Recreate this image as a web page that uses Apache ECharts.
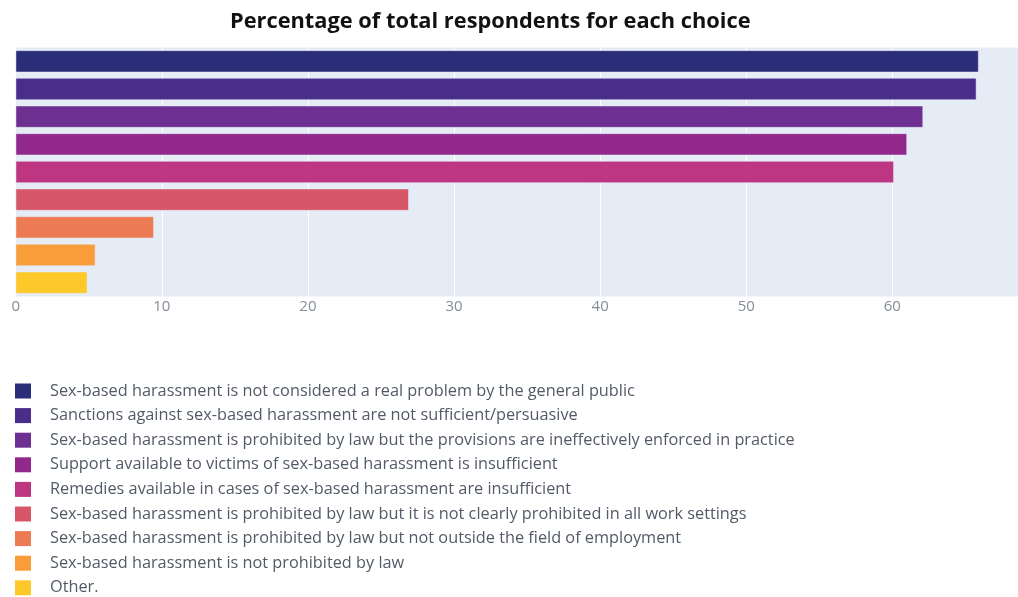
<!DOCTYPE html>
<html>
<head>
<meta charset="utf-8">
<script src="https://cdn.jsdelivr.net/npm/echarts@6/dist/echarts.min.js"></script>
<style>
  html, body { margin: 0; padding: 0; background: #ffffff; }
  #chart { width: 1018px; height: 597px; }
</style>
</head>
<body>
<div id="chart"></div>
<script>
const titleText = "Percentage of total respondents for each choice";

const categories = [
  "Sex-based harassment is not considered a real problem by the general public",
  "Sanctions against sex-based harassment are not sufficient/persuasive",
  "Sex-based harassment is prohibited by law but the provisions are ineffectively enforced in practice",
  "Support available to victims of sex-based harassment is insufficient",
  "Remedies available in cases of sex-based harassment are insufficient",
  "Sex-based harassment is prohibited by law but it is not clearly prohibited in all work settings",
  "Sex-based harassment is prohibited by law but not outside the field of employment",
  "Sex-based harassment is not prohibited by law",
  "Other."
];

const values = [65.9, 65.75, 62.1, 61.0, 60.1, 26.9, 9.45, 5.45, 4.9];

const colors = [
  "#2b2d79", "#4a2c8a", "#6d3091", "#93288c", "#be3681",
  "#d75667", "#ec7a52", "#f89d3a", "#fcc82a"
];

const axisMin = 0;
const axisMax = 68.6;
const tickStep = 10;

const series = categories.map((name, i) => ({
  name: name,
  type: "bar",
  stack: "all",
  barWidth: "79%",
  data: categories.map((_, j) => (j === i ? values[i] : "-")),
  itemStyle: { color: colors[i], borderColor: "#E5ECF6", borderWidth: 0.5 },
  emphasis: { disabled: true }
}));

const chart = echarts.init(document.getElementById("chart"), null, { renderer: "canvas" });
chart.setOption({
  animation: false,
  backgroundColor: "#ffffff",
  title: {
    text: titleText,
    left: 225,
    top: 6,
    textStyle: {
      fontFamily: "Open Sans",
      fontWeight: "bold",
      fontSize: 21.8,
      color: "#111111"
    }
  },
  grid: {
    left: 15.7,
    right: 0,
    top: 47.5,
    height: 249,
    show: true,
    backgroundColor: "#E5ECF6",
    borderWidth: 0,
    containLabel: false
  },
  xAxis: {
    type: "value",
    min: axisMin,
    max: axisMax,
    interval: tickStep,
    axisLine: { show: false },
    axisTick: { show: false },
    splitLine: { show: true, lineStyle: { color: "#ffffff", width: 1 } },
    axisLabel: {
      color: "#838c99",
      fontFamily: "Open Sans",
      fontSize: 15,
      margin: 3,
      showMaxLabel: false
    }
  },
  yAxis: {
    type: "category",
    data: categories,
    inverse: true,
    axisLine: { show: false },
    axisTick: { show: false },
    axisLabel: { show: false },
    splitLine: { show: false }
  },
  legend: {
    orient: "horizontal",
    left: 15,
    top: 383,
    width: 40,
    padding: 0,
    itemWidth: 16,
    itemHeight: 15,
    itemGap: 8.6,
    icon: "rect",
    selectedMode: false,
    data: categories,
    itemStyle: { borderWidth: 0 },
    textStyle: {
      fontFamily: "Open Sans",
      fontSize: 16.3,
      lineHeight: 15,
      color: "#525a66",
      padding: [0, 0, 0, 14]
    }
  },
  series: series
});
</script>
</body>
</html>
